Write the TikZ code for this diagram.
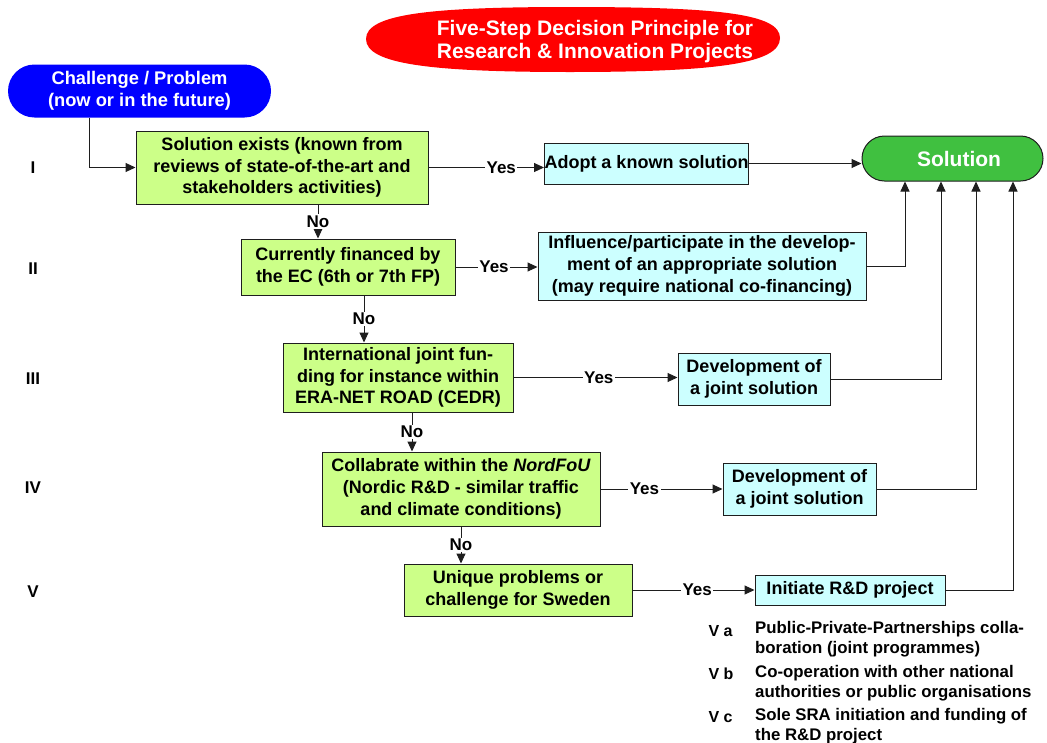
\documentclass[tikz,border=0pt]{standalone}
\usepackage{fontspec}
\setmainfont{Liberation Sans}
\usetikzlibrary{arrows.meta,shapes.geometric,shapes.misc}
\definecolor{boxgreen}{RGB}{204,255,136}
\definecolor{boxcyan}{RGB}{204,255,255}
\definecolor{solgreen}{RGB}{64,192,64}
\definecolor{linegray}{RGB}{30,30,30}
\tikzset{
  stepbox/.style={draw=linegray, line width=1pt, fill=boxgreen, align=center, inner sep=0pt,
    font=\bfseries\fontsize{18}{21.7}\selectfont},
  resbox/.style={draw=linegray, line width=1pt, fill=boxcyan, align=center, inner sep=0pt,
    font=\bfseries\fontsize{18}{21.7}\selectfont},
  arr/.style={draw=linegray, line width=1pt, -{Triangle[length=10pt,width=9pt]}},
  lab/.style={fill=white, inner sep=1.5pt, font=\bfseries\fontsize{17}{20}\selectfont},
  roman/.style={font=\bfseries\fontsize{17}{20}\selectfont},
  legkey/.style={font=\bfseries\fontsize{16}{19}\selectfont, anchor=west},
  legtxt/.style={font=\bfseries\fontsize{16.8}{19.5}\selectfont, anchor=north west, align=left, inner sep=0pt},
}
\begin{document}
\begin{tikzpicture}[x=1pt,y=-1pt]
\useasboundingbox (0,0) rectangle (1047,742);
% title
\fill[red] (366,39) .. controls (366,14) and (430,7) .. (570,7)
  .. controls (720,7) and (780,14) .. (780,38)
  .. controls (780,63) and (720,72) .. (570,72)
  .. controls (430,72) and (366,64) .. (366,39) -- cycle;
\node[align=center, text=white, inner sep=0pt, font=\bfseries\fontsize{21}{23}\selectfont] (titletext) at (595,41.5)
  {Five-Step Decision Principle for\\Research \& Innovation Projects};
% start
\node[rounded rectangle, fill=blue, minimum width=263pt, minimum height=53pt, inner sep=0pt, align=center,
  text=white, font=\bfseries\fontsize{18.3}{21.5}\selectfont] (chal) at (139.5,91)
  {Challenge / Problem\\(now or in the future)};
% solution
\node[rounded rectangle, draw=linegray, line width=1pt, fill=solgreen, minimum width=181pt, minimum height=45pt,
  inner sep=0pt] (sol) at (952.5,158.5) {};
\node[text=white, inner sep=0pt, font=\bfseries\fontsize{21}{24}\selectfont] (soltext) at (959,158.5) {Solution};
% step boxes
\node[stepbox, minimum width=292pt, minimum height=73pt] (b1) at (282,167.5)
  {Solution exists (known from\\reviews of state-of-the-art and\\stakeholders activities)};
\node[stepbox, minimum width=214pt, minimum height=56pt] (b2) at (348,267)
  {Currently financed by\\the EC (6th or 7th FP)};
\node[stepbox, minimum width=230pt, minimum height=69pt] (b3) at (398,377.5)
  {International joint fun-\\ding for instance within\\ERA-NET ROAD (CEDR)};
\node[stepbox, minimum width=278pt, minimum height=74pt] (b4) at (461,489)
  {Collabrate within the \textit{NordFoU}\\(Nordic R\&D - similar traffic\\and climate conditions)};
\node[stepbox, minimum width=228pt, minimum height=52pt] (b5) at (518,590)
  {Unique problems or\\challenge for Sweden};
% result boxes
\node[resbox, minimum width=199pt, minimum height=41pt] (adopt) at (646.5,163.5) {Adopt a known solution};
\node[resbox, minimum width=328pt, minimum height=68pt] (infl) at (702,266)
  {Influence/participate in the develop-\\ment of an appropriate solution\\(may require national co-financing)};
\node[resbox, minimum width=152pt, minimum height=52pt] (dev3) at (754,379) {Development of\\a joint solution};
\node[resbox, minimum width=153pt, minimum height=52pt] (dev4) at (799.5,489) {Development of\\a joint solution};
\node[resbox, minimum width=190pt, minimum height=30pt] (init) at (850,590) {Initiate R\&D project};
% roman numerals
\node[roman] (r1) at (33,168) {I};
\node[roman] (r2) at (33,269) {II};
\node[roman] (r3) at (33,379) {III};
\node[roman] (r4) at (33,488) {IV};
\node[roman] (r5) at (33,592) {V};
% connectors
\draw[arr] ([xshift=-50.5pt]chal.south) |- (b1.west);
\draw[arr] (b1.east) -- node[lab, pos=0.63] {Yes} (b1.east -| adopt.west);
\draw[arr] (adopt.east) -- (adopt.east -| sol.west);
\draw[arr] ([xshift=36pt]b1.south) -- node[lab] {No} ([xshift=-30pt]b2.north);
\draw[arr] (b2.east) -- node[lab, pos=0.47] {Yes} (b2.east -| infl.west);
\draw[arr] ([xshift=16pt]b2.south) -- node[lab] {No} ([xshift=-34pt]b3.north);
\draw[arr] (b3.east) -- node[lab, pos=0.52] {Yes} (b3.east -| dev3.west);
\draw[arr] ([xshift=14pt]b3.south) -- node[lab] {No} ([xshift=-49pt]b4.north);
\draw[arr] (b4.east) -- node[lab, pos=0.36] {Yes} (b4.east -| dev4.west);
\draw[arr] (b4.south) -- node[lab] {No} ([xshift=-57pt]b5.north);
\draw[arr] (b5.east) -- node[lab, pos=0.53] {Yes} (b5.east -| init.west);
\draw[arr] (infl.east) -| ([xshift=-47.5pt]sol.south);
\draw[arr] (dev3.east) -| ([xshift=-11.5pt]sol.south);
\draw[arr] (dev4.east) -| ([xshift=23.5pt]sol.south);
\draw[arr] (init.east) -| ([xshift=60.5pt]sol.south);
% legend
\node[legkey] (ka) at (705,631) {V a};
\node[legtxt] (ta) at (755,621.5) {Public-Private-Partnerships colla-\\boration (joint programmes)};
\node[legkey] (kb) at (705,674) {V b};
\node[legtxt] (tb) at (755,665.5) {Co-operation with other national\\authorities or public organisations};
\node[legkey] (kc) at (705,717) {V c};
\node[legtxt] (tc) at (755,708.5) {Sole SRA initiation and funding of\\the R\&D project};
\end{tikzpicture}
\end{document}
